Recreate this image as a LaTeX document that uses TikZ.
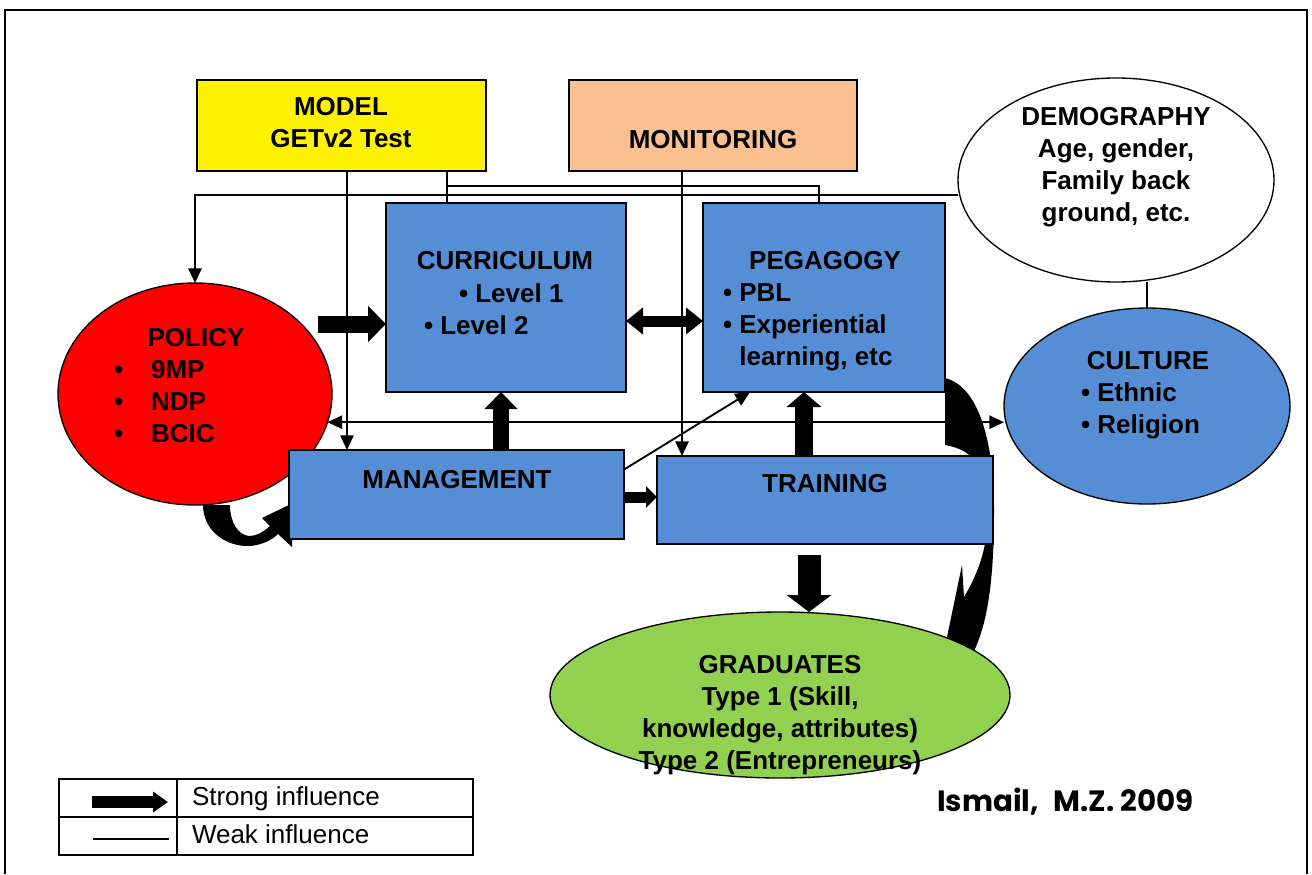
\documentclass[tikz,border=0pt]{standalone}
\usepackage{fontspec}
\setmainfont{Liberation Sans}
\newfontfamily\signfont{Poppins}
\usetikzlibrary{arrows.meta,shapes.geometric,calc}
\pgfdeclarelayer{under}
\pgfsetlayers{under,main}
\definecolor{boxblue}{RGB}{85,142,213}
\definecolor{peach}{RGB}{250,192,144}
\definecolor{leaf}{RGB}{146,208,80}
\newcommand\pxu{0.75pt}
\begin{document}
\begin{tikzpicture}[x=0.75pt,y=-0.75pt,
  font=\fontsize{19.5}{24}\selectfont\bfseries,
  rect/.style={draw=black,line width=1pt,inner sep=0pt,outer sep=0pt},
  oval/.style={ellipse,draw=black,line width=1pt,inner sep=0pt,outer sep=0pt},
  txt/.style={inner sep=0pt,outer sep=0pt},
  weak/.style={line width=1.4pt},
  weakarrow/.style={line width=1.4pt,-{Triangle[width=10pt,length=11pt]}},
  weakboth/.style={line width=1.4pt,{Triangle[width=10pt,length=11pt]}-{Triangle[width=10pt,length=11pt]}},
]
\useasboundingbox (0,0) rectangle (1312,874);
% page frame
\draw[line width=1.5pt] (5,874) -- (5,10) -- (1307,10) -- (1307,874);

% ---- boxes and ovals
\node[rect,fill=yellow,minimum width=289*\pxu,minimum height=91*\pxu] (model) at (341.5,125.5) {};
\node[rect,fill=peach,minimum width=288*\pxu,minimum height=91*\pxu] (monitor) at (713,125.5) {};
\node[oval,fill=white,minimum width=316*\pxu,minimum height=204*\pxu] (demo) at (1116,180) {};
\node[rect,fill=boxblue,minimum width=240*\pxu,minimum height=189*\pxu] (curr) at (506,297.5) {};
\node[rect,fill=boxblue,minimum width=242*\pxu,minimum height=189*\pxu] (ped) at (824,297.5) {};
\node[oval,fill=red,minimum width=274*\pxu,minimum height=222*\pxu] (policy) at (195,394) {};
\node[oval,fill=boxblue,minimum width=286*\pxu,minimum height=196*\pxu] (culture) at (1147,406) {};
\node[rect,fill=boxblue,minimum width=335*\pxu,minimum height=89*\pxu] (mgmt) at (456.5,494.5) {};
\node[rect,fill=boxblue,minimum width=336*\pxu,minimum height=88*\pxu] (train) at (825,500) {};
\node[oval,fill=leaf,minimum width=460*\pxu,minimum height=166*\pxu] (grad) at (780,695) {};

% ---- texts
\node[txt,align=center] (tModel) at (341,123) {MODEL\\GETv2 Test};
\node[txt,anchor=base] (tMon) at (713,148) {MONITORING};
\node[txt,align=center] (tDemo) at (1116,167) {DEMOGRAPHY\\Age, gender,\\Family back\\ground, etc.};
\node[txt,anchor=base] (tCurr) at (505,269) {CURRICULUM};
\node[txt,anchor=base west] (tLv1) at (459,302) {• Level 1};
\node[txt,anchor=base west] (tLv2) at (424,334) {• Level 2};
\node[txt,anchor=base] (tPed) at (825,269) {PEGAGOGY};
\node[txt,anchor=west,align=left] (tPedL) at (723,327.5) {• PBL\\• Experiential\\\hphantom{•~}learning, etc};
\node[txt,anchor=base] (tPol) at (196,346) {POLICY};
\node[txt,anchor=west,align=left] (tPolL) at (114,402) {•\hspace{21pt}9MP\\•\hspace{21pt}NDP\\•\hspace{21pt}BCIC};
\node[txt,anchor=base] (tCul) at (1148,369) {CULTURE};
\node[txt,anchor=west,align=left] (tCulL) at (1081,411) {• Ethnic\\• Religion};
\node[txt,anchor=base] (tMgmt) at (457,488) {MANAGEMENT};
\node[txt,anchor=base] (tTrain) at (825,492) {TRAINING};
\node[txt,align=center] (tGrad) at (780,715.5) {GRADUATES\\Type 1 (Skill,\\knowledge, attributes)\\Type 2 (Entrepreneurs)};

% ---- key
\node[rect,line width=1.2pt,minimum width=414*\pxu,minimum height=76*\pxu] (key) at (266,817) {};
\coordinate (keyCol) at (177,0);
\draw[line width=1.2pt] (key.west) -- (key.east);
\draw[line width=1.2pt] (key.north -| keyCol) -- (key.south -| keyCol);
\coordinate (kS1) at (92,802);
\coordinate (kS2) at (168,802);
\coordinate (kW1) at (93,839);
\coordinate (kW2) at (169,839);
\draw[line width=9pt,-{Triangle[width=15pt,length=11.25pt]}] (kS1) -- (kS2);
\draw[line width=1.2pt] (kW1) -- (kW2);
\node[txt,anchor=base west,font=\fontsize{19.5}{24}\selectfont\mdseries] (kStrong) at (192,805) {Strong influence};
\node[txt,anchor=base west,font=\fontsize{19.5}{24}\selectfont\mdseries] (kWeak) at (192,843) {Weak influence};

\node[txt,anchor=base west,font=\signfont\fontsize{22}{26}\selectfont\bfseries] (sign) at (937,811) {Ismail,\hspace{0.5em}M.Z. 2009};

% ---- connectors (beneath the shapes)
\coordinate (xModel) at (347,0);
\coordinate (xMon) at (682,0);
\coordinate (xCurTop) at (447,0);
\coordinate (hiRun) at (819,186);
\coordinate (loRun) at (0,195);
\coordinate (xDiag) at (750,0);
\coordinate (sA) at (318,324);
\coordinate (dB) at (0,321);
\coordinate (xUp1) at (501,0);
\coordinate (xUp2) at (804,0);
\coordinate (yRight) at (0,497);
\coordinate (sF) at (809,555);
\begin{pgfonlayer}{under}
  \fill[white] (0,0) rectangle (1312,874);
  % curved strong arrow: policy -> management
  \fill (203,505) .. controls (203,530) and (225,547) .. (250,546)
        .. controls (262,545) and (272,540) .. (278,534) -- (292,547) -- (293,503)
        -- (262,518) -- (270,526) .. controls (262,533) and (256,536) .. (249,536)
        .. controls (238,535) and (230,522) .. (230,505) -- cycle;
  % curved strong arrow: pedagogy -> graduates
  \fill (945,378) .. controls (978,386) and (994,440) .. (994,510)
        .. controls (994,580) and (988,630) .. (968,662) -- (947,637) -- (962,565)
        -- (964,597) .. controls (980,570) and (988,545) .. (988,510)
        .. controls (988,470) and (975,450) .. (945,445) -- cycle;
  % weak influences
  \draw[weakarrow] (model.south -| xModel) -- (mgmt.north -| xModel);
  \draw[weakarrow] (monitor.south -| xMon) -- (train.north -| xMon);
  \draw[weak] (model.south -| xCurTop) -- (curr.north -| xCurTop);
  \draw[weak] (model.south -| xCurTop) |- (hiRun) -- (ped.north -| hiRun);
  \draw[weakarrow] (demo.west |- loRun) -| (policy.north);
  \draw[weakboth] (policy.-12) -- (culture.west |- policy.-12);
  \draw[weakarrow] ($(mgmt.north east)!0.22!(mgmt.south east)$) -- (ped.south -| xDiag);
  \draw[weak] (demo.south -| culture.north) -- (culture.north);
  % strong influences
  \draw[line width=12.75pt,-{Triangle[width=26.25pt,length=13.5pt]}] (sA) -- (curr.west |- sA);
  \draw[line width=8.25pt,{Triangle[width=19.5pt,length=12.75pt]}-{Triangle[width=19.5pt,length=12.75pt]}] (curr.east |- dB) -- (ped.west |- dB);
  \draw[line width=12pt,-{Triangle[width=24pt,length=12.75pt]}] (mgmt.north -| xUp1) -- (curr.south -| xUp1);
  \draw[line width=13.5pt,-{Triangle[width=25.5pt,length=11.25pt]}] (train.north -| xUp2) -- (ped.south -| xUp2);
  \draw[line width=8.25pt,-{Triangle[width=15.75pt,length=8.25pt]}] (mgmt.east |- yRight) -- (train.west |- yRight);
  \draw[line width=17.25pt,-{Triangle[width=33pt,length=12.75pt]}] (sF) -- (grad.north -| sF);
\end{pgfonlayer}
\end{tikzpicture}
\end{document}
